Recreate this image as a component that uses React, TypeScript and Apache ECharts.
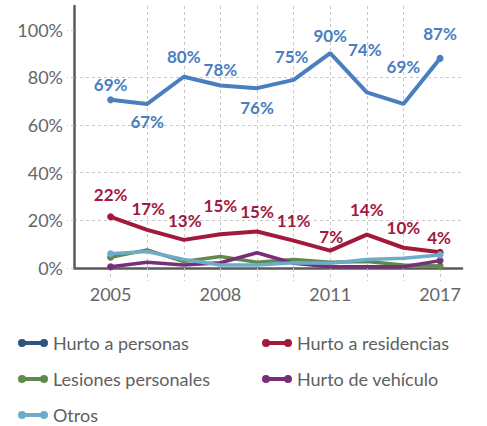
import React, { useEffect, useRef } from "react";
import * as echarts from "echarts";

const years = ["2005", "2006", "2007", "2008", "2009", "2010", "2011", "2013", "2015", "2017"];
const seriesNames = ["Hurto a personas", "Hurto a residencias", "Lesiones personales", "Hurto de vehículo", "Otros"];
const hurtoPersonas = [70.6, 68.9, 80.3, 76.6, 75.5, 79.0, 90.2, 73.7, 68.9, 88.0];
const hurtoResidencias = [21.5, 16.0, 11.8, 14.2, 15.3, 11.5, 7.3, 14.0, 8.5, 6.6];
const lesionesPersonales = [4.5, 7.6, 2.7, 4.8, 2.4, 3.6, 2.4, 2.7, 1.3, 0.8];
const hurtoVehiculo = [0.5, 2.4, 1.3, 2.2, 6.4, 2.0, 0.5, 0.5, 0.5, 3.1];
const otros = [6.0, 6.9, 3.6, 1.3, 1.3, 2.2, 2.0, 3.6, 4.1, 5.5];
const labelsPersonas = [69, 67, 80, 78, 76, 75, 90, 74, 69, 87];
const labelsResidencias = [22, 17, 13, 15, 15, 11, 7, 14, 10, 4];
const yTicks = [0, 20, 40, 60, 80, 100];

const lineColors = ["#4a7ebf", "#a1193d", "#5f8a4b", "#792e7a", "#6dacc9"];
const legendColors = ["#2d5483", "#a1193d", "#5f8a4b", "#792e7a", "#6dacc9"];

const offPersonas: number[][] = [[0, -15], [0, 18], [0, -20], [0, -16], [0, 19], [-2, -23], [0, -18], [-2, -43], [0, -37], [0, -25]];
const offResidencias: number[][] = [[0, -22], [1, -21], [1, -19], [0, -29], [0, -20], [0, -20], [1, -14], [0, -25], [0, -20], [-1, -15]];

const ICON = "path://M4,0 A4,4 0 1 1 4,8 A4,4 0 1 1 4,0 Z M4,2 L26,2 L26,6 L4,6 Z M26,0 A4,4 0 1 1 26,8 A4,4 0 1 1 26,0 Z";

export default function App() {
  const ref = useRef<HTMLDivElement>(null);
  useEffect(() => {
    if (!ref.current) return;
    const chart = echarts.init(ref.current, undefined, { renderer: "svg" });
    const values = [hurtoPersonas, hurtoResidencias, lesionesPersonales, hurtoVehiculo, otros];
    const last = years.length - 1;
    const series = values.map((arr, si) => {
      const labels = si === 0 ? labelsPersonas : si === 1 ? labelsResidencias : null;
      const offs = si === 0 ? offPersonas : si === 1 ? offResidencias : null;
      return {
        name: seriesNames[si],
        type: "line",
        z: 2 + (si === 0 ? 5 : si === 1 ? 4 : si),
        symbol: "circle",
        symbolSize: (_v: any, p: any) => (p.dataIndex === 0 || p.dataIndex === last ? 7 : 1),
        lineStyle: { width: si < 2 ? 4 : 3.5, color: lineColors[si] },
        itemStyle: { color: lineColors[si] },
        data: arr.map((v, i) => {
          const item: any = { value: [i, v] };
          if (labels && offs) {
            item.label = {
              show: true,
              position: "inside",
              offset: offs[i],
              formatter: labels[i] + "%",
              color: lineColors[si],
              fontFamily: "Lato",
              fontWeight: "bold",
              fontSize: 17,
            };
          }
          return item;
        }),
      };
    });
    chart.setOption({
      animation: false,
      grid: { left: 74, right: 25, top: 6, bottom: 158, containLabel: false },
      legend: {
        left: 18,
        top: 334,
        width: 490,
        padding: 0,
        itemGap: 18,
        itemWidth: 30,
        itemHeight: 8,
        icon: ICON,
        textStyle: { fontFamily: "Lato", fontSize: 18, color: "#606060", width: 191, lineHeight: 18 },
        data: seriesNames.map((n, i) => ({ name: n, itemStyle: { color: legendColors[i] } })),
      },
      xAxis: {
        type: "value",
        min: -1,
        max: 9.6,
        interval: 1,
        axisLine: { show: true, onZero: false, lineStyle: { color: "#5a5a5a", width: 2.5 } },
        axisTick: {
          show: true,
          length: 13,
          customValues: years.map((_, i) => i),
          lineStyle: { color: "#c8c8c8", type: [3, 3], width: 1 },
        },
        axisLabel: {
          customValues: [0, 3, 6, 9],
          formatter: (v: number) => years[Math.round(v)] ?? "",
          margin: 17,
          fontFamily: "Lato",
          fontSize: 18,
          color: "#666",
        },
        splitLine: {
          show: true,
          showMinLine: false,
          showMaxLine: false,
          lineStyle: { color: "#c8c8c8", type: [3, 3], width: 1 },
        },
      },
      yAxis: {
        type: "value",
        min: 0,
        max: 110,
        interval: 20,
        axisLine: { show: true, onZero: false, lineStyle: { color: "#5a5a5a", width: 2.5 } },
        axisTick: {
          show: true,
          length: 7,
          customValues: yTicks,
          lineStyle: { color: "#c8c8c8", type: [3, 3], width: 1 },
        },
        axisLabel: {
          customValues: yTicks,
          formatter: (v: number) => v + "%",
          margin: 11,
          fontFamily: "Lato",
          fontSize: 18,
          color: "#666",
        },
        splitLine: {
          show: true,
          showMaxLine: false,
          lineStyle: { color: "#c8c8c8", type: [3, 3], width: 1 },
        },
      },
      series,
    });
    return () => chart.dispose();
  }, []);
  return <div ref={ref} style={{ width: 487, height: 426, position: "absolute", left: 0, top: 0 }} />;
}
